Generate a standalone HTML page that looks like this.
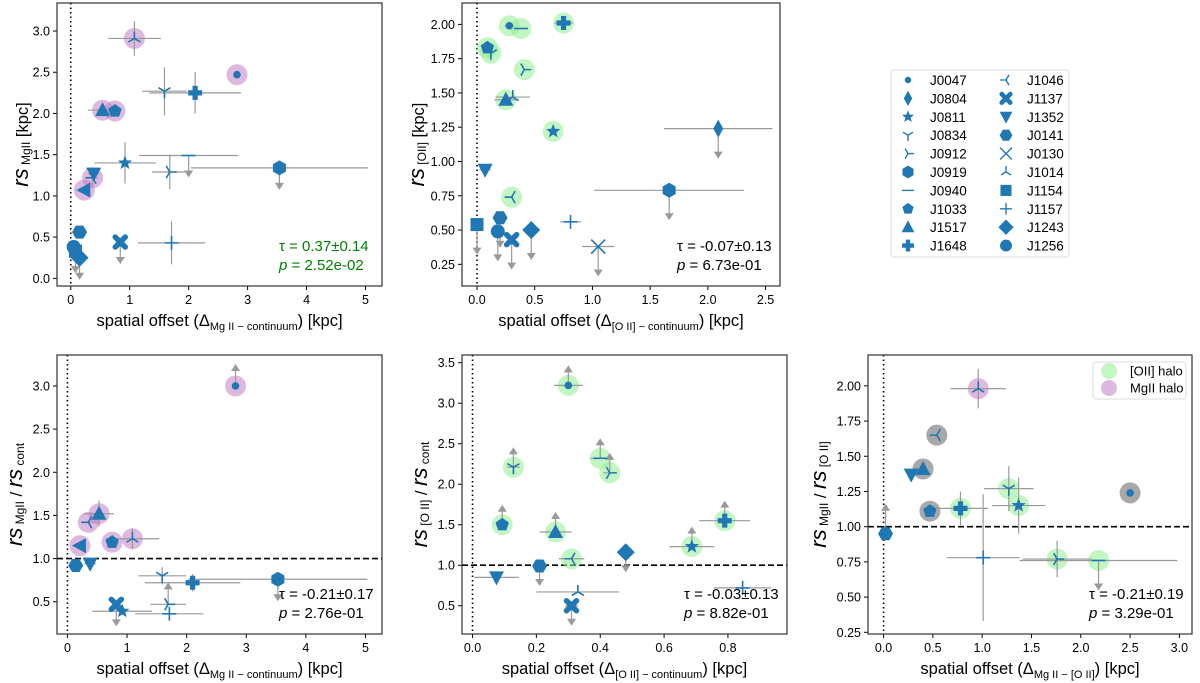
<!DOCTYPE html>
<html><head><meta charset="utf-8">
<style>
html,body{margin:0;padding:0;background:#fff;}
svg{display:block;font-family:"Liberation Sans","DejaVu Sans",sans-serif;}
</style></head>
<body>
<svg id="fig" width="1200" height="683" viewBox="0 0 1200 683" xmlns="http://www.w3.org/2000/svg"></svg>
<script>
// ---------- Panel 1: rs MgII vs offset MgII-continuum ----------
const p1Names=["J1014","J0047","J0834","J1648","J1517","J1033","J0811","J0940","J0912","J0919","J1352","J1046","L","J0141","J1256","J1154","J1243","J1137","J1157"];
const p1X=[1.08,2.82,1.59,2.11,0.54,0.75,0.92,2.0,1.68,3.54,0.39,0.37,0.23,0.15,0.05,0.08,0.15,0.84,1.71];
const p1Y=[2.91,2.47,2.27,2.25,2.04,2.03,1.40,1.49,1.29,1.34,1.27,1.22,1.07,0.56,0.38,0.33,0.25,0.44,0.43];
const p1Xe=[0.45,0,0.38,0.78,0.25,0.1,0.52,0.84,0.3,1.5,0.1,0.1,0,0,0,0,0,0,0.57];
const p1Ye=[0.21,0,0.29,0.25,0,0,0.25,0,0.21,0,0,0.1,0,0,0,0,0,0,0.26];
const p1Halo=["m","m","","","m","m","","","","","","m","m","","","","","",""];
const p1Lim=["","","","","","","","d","","d","","","","","","d","d","d",""];
const p1XTicks=[0,1,2,3,4,5];
const p1YTicks=[0,0.5,1,1.5,2,2.5,3];
// ---------- Panel 2: rs OII vs offset OII-continuum ----------
const p2Names=["J0047","J0940","J1648","J1033","J0834","J0912","J1517","J1014","J0811","J0804","J1352","J1046","J0919","J1154","J0141","J1256","J1137","J1243","J1157","J0130"];
const p2X=[0.28,0.38,0.75,0.09,0.12,0.41,0.25,0.31,0.66,2.09,0.07,0.30,1.665,0,0.20,0.18,0.30,0.47,0.81,1.05];
const p2Y=[1.99,1.97,2.01,1.83,1.79,1.67,1.45,1.47,1.22,1.24,0.94,0.74,0.79,0.54,0.59,0.49,0.43,0.50,0.56,0.38];
const p2Xe=[0.04,0.06,0.08,0,0,0,0.1,0.15,0.04,0.47,0.05,0,0.65,0,0,0,0,0,0.09,0.14];
const p2Ye=[0,0,0,0,0,0,0,0,0,0,0,0,0,0,0,0,0,0,0,0];
const p2Halo=["g","g","g","g","g","g","g","","g","","","g","","","","","","","",""];
const p2Lim=["","","","","","","","","","d","","","d","d","d","d","d","d","","d"];
const p2XTicks=[0,0.5,1,1.5,2,2.5];
const p2YTicks=[0.25,0.5,0.75,1,1.25,1.5,1.75,2];
// ---------- Panel 4: rs MgII / rs cont ----------
const p4Names=["J0047","J1517","J1046","J1033","J1014","L","J0141","J1352","J0834","J1648","J0919","J1137","J0811","J0912","J1157"];
const p4X=[2.82,0.53,0.35,0.75,1.09,0.21,0.14,0.38,1.59,2.1,3.53,0.82,0.92,1.69,1.71];
const p4Y=[3.0,1.52,1.42,1.19,1.23,1.15,0.92,0.94,0.80,0.72,0.76,0.47,0.39,0.47,0.36];
const p4Xe=[0,0.25,0.1,0.1,0.45,0,0,0.1,0.4,0.8,1.5,0,0.5,0.3,0.57];
const p4Ye=[0,0.15,0,0,0.12,0,0,0,0.1,0.1,0,0,0,0,0];
const p4Halo=["m","m","m","m","m","m","","","","","","","","",""];
const p4Lim=["u","","","","","","","","","","d","d","","u",""];
const p4XTicks=[0,1,2,3,4,5];
const p4YTicks=[0.5,1,1.5,2,2.5,3];
// ---------- Panel 5: rs OII / rs cont ----------
const p5Names=["J0047","J0834","J0940","J0912","J1033","J1517","J1046","J1243","J0811","J1648","J0141","J1352","J1014","J1137","J1157"];
const p5X=[0.30,0.128,0.40,0.43,0.093,0.26,0.31,0.48,0.687,0.79,0.21,0.075,0.33,0.31,0.846];
const p5Y=[3.22,2.21,2.32,2.14,1.50,1.41,1.08,1.16,1.23,1.55,0.99,0.85,0.67,0.50,0.72];
const p5Xe=[0.045,0.02,0.03,0.02,0.02,0.05,0.04,0,0.07,0.08,0,0.07,0.13,0.02,0.09];
const p5Ye=[0,0,0,0,0,0,0,0,0,0,0,0,0,0,0];
const p5Halo=["g","g","g","g","g","g","g","","g","g","","","","",""];
const p5Lim=["u","u","u","u","u","u","","d","u","u","d","","","d",""];
const p5XTicks=[0,0.2,0.4,0.6,0.8];
const p5YTicks=[0.5,1,1.5,2,2.5,3,3.5];
// ---------- Panel 6: rs MgII / rs OII ----------
const p6Names=["J1014","J1046","J1517","J1352","J1033","J1648","J0834","J0811","J0047","J0141","J1157","J0912","J0940"];
const p6X=[0.96,0.54,0.40,0.28,0.47,0.78,1.27,1.37,2.50,0.02,1.01,1.76,2.18];
const p6Y=[1.98,1.65,1.41,1.37,1.11,1.13,1.27,1.15,1.24,0.95,0.78,0.77,0.76];
const p6Xe=[0.28,0,0,0,0,0.28,0.25,0.27,0,0,0.37,0.35,0.8];
const p6Ye=[0.14,0,0,0,0,0.12,0.16,0.2,0,0,0.45,0.13,0];
const p6Halo=["m","k","k","","k","g","g","g","k","","","g","g"];
const p6Lim=["","","","","","","","","","u","","","d"];
const p6XTicks=[0,0.5,1,1.5,2,2.5,3];
const p6YTicks=[0.25,0.5,0.75,1,1.25,1.5,1.75,2];

const legendNames=["J0047","J0804","J0811","J0834","J0912","J0919","J0940","J1033","J1517","J1648","J1046","J1137","J1352","J0141","J0130","J1014","J1154","J1157","J1243","J1256"];
const MK={J0047:".",J0804:"d",J0811:"*",J0834:"1",J0912:"4",J0919:"h",J0940:"_",J1033:"p",J1517:"^",J1648:"P",J1046:"3",J1137:"X",J1352:"v",J0141:"H",J0130:"x",J1014:"2",J1154:"s",J1157:"+",J1243:"D",J1256:"o",L:"<"};

const NS="http://www.w3.org/2000/svg";
const svg=document.getElementById("fig");
const BLUE="#1f77b4", GRAY="#9a9a9a";
function el(tag,attrs,parent){const e=document.createElementNS(NS,tag);for(const k in attrs)e.setAttribute(k,attrs[k]);(parent||svg).appendChild(e);return e;}
function fmt(v,d){return v.toFixed(d);}
function poly(n,r,rot){let p=[];for(let i=0;i<n;i++){const a=rot+i*2*Math.PI/n;p.push((r*Math.cos(a)).toFixed(2)+","+(r*Math.sin(a)).toFixed(2));}return p.join(" ");}
function marker(g,type,cx,cy){
  const m=el("g",{transform:`translate(${cx},${cy})`},g);
  const F={fill:BLUE,stroke:"none"}, S={stroke:BLUE,"stroke-width":1.6,fill:"none"};
  switch(type){
    case ".":el("circle",Object.assign({r:3.8},F),m);break;
    case "o":el("circle",Object.assign({r:7},F),m);break;
    case "d":el("polygon",Object.assign({points:"0,-9 5,0 0,9 -5,0"},F),m);break;
    case "D":el("polygon",Object.assign({points:"0,-9 9,0 0,9 -9,0"},F),m);break;
    case "s":el("rect",Object.assign({x:-6.5,y:-6.5,width:13,height:13},F),m);break;
    case "^":el("polygon",Object.assign({points:"0,-8 7.5,6 -7.5,6"},F),m);break;
    case "v":el("polygon",Object.assign({points:"0,8 7.5,-6 -7.5,-6"},F),m);break;
    case "<":el("polygon",Object.assign({points:"-8,0 6,-7.5 6,7.5"},F),m);break;
    case "p":el("polygon",Object.assign({points:poly(5,7,-Math.PI/2)},F),m);break;
    case "h":el("polygon",Object.assign({points:poly(6,7.5,-Math.PI/2)},F),m);break;
    case "H":el("polygon",Object.assign({points:poly(6,7.5,0)},F),m);break;
    case "*":{let p=[];for(let i=0;i<10;i++){const r=i%2?3.2:7.5,a=-Math.PI/2+i*Math.PI/5;p.push((r*Math.cos(a)).toFixed(2)+","+(r*Math.sin(a)).toFixed(2));}el("polygon",Object.assign({points:p.join(" ")},F),m);break;}
    case "P":el("path",Object.assign({d:"M-2.6,-7H2.6V-2.6H7V2.6H2.6V7H-2.6V2.6H-7V-2.6H-2.6Z"},F),m);break;
    case "X":el("path",{d:"M-5,-5L5,5M5,-5L-5,5",stroke:BLUE,"stroke-width":5.5,"stroke-linecap":"round"},m);break;
    case "x":el("path",Object.assign({d:"M-7,-7L7,7M7,-7L-7,7"},S),m);break;
    case "+":el("path",Object.assign({d:"M-7,0H7M0,-7V7"},S),m);break;
    case "_":el("path",Object.assign({d:"M-7,0H7"},S),m);break;
    case "1":el("path",Object.assign({d:"M0,0V7M0,0L-6,-3.5M0,0L6,-3.5"},S),m);break;
    case "2":el("path",Object.assign({d:"M0,0V-7M0,0L-6,3.5M0,0L6,3.5"},S),m);break;
    case "3":el("path",Object.assign({d:"M0,0H-7M0,0L3.5,-6M0,0L3.5,6"},S),m);break;
    case "4":el("path",Object.assign({d:"M0,0H7M0,0L-3.5,-6M0,0L-3.5,6"},S),m);break;
  }
  return m;
}
const HALO={g:"rgba(144,238,144,0.55)",m:"rgba(191,114,191,0.5)",k:"rgba(110,110,110,0.6)"};

function panel(cfg){
  const g=el("g",{});
  
  
  const {L,R,T,B,x0,x1,y0,y1}=cfg;
  const sx=v=>L+(v-x0)/(x1-x0)*(R-L);
  const sy=v=>B-(v-y0)/(y1-y0)*(B-T);
  // ticks
  const tg=el("g",{},g);
  
  
  cfg.xt.forEach(v=>{const x=sx(v);el("line",{x1:x,x2:x,y1:B,y2:B+4,stroke:"#000","stroke-width":1},tg);
    const t=el("text",{x:x,y:B+18,"text-anchor":"middle","font-size":12.5},tg);t.textContent=fmt(v,cfg.xd);});
  const yg=el("g",{},g);
  
  
  cfg.yt.forEach(v=>{const y=sy(v);el("line",{x1:L-4,x2:L,y1:y,y2:y,stroke:"#000","stroke-width":1},yg);
    const t=el("text",{x:L-7,y:y+4.5,"text-anchor":"end","font-size":12.5},yg);t.textContent=fmt(v,cfg.yd);});
  // reference lines
  const vl=el("line",{x1:sx(0),x2:sx(0),y1:T,y2:B,stroke:"#000","stroke-width":1.6,"stroke-dasharray":"1.5,3"},g);
  
  
  if(cfg.hline){const hl=el("line",{x1:L,x2:R,y1:sy(1),y2:sy(1),stroke:"#000","stroke-width":1.6,"stroke-dasharray":"6,3"},g);
    
    }
  const d=cfg.d;
  // halos
  d.names.forEach((n,i)=>{if(d.halo[i]){const c=el("circle",{cx:sx(d.x[i]),cy:sy(d.y[i]),r:10.5,fill:HALO[d.halo[i]]},g);
    
    }});
  // error bars & limits
  d.names.forEach((n,i)=>{const x=sx(d.x[i]),y=sy(d.y[i]);
    if(d.xe[i])el("line",{x1:sx(d.x[i]-d.xe[i]),x2:sx(d.x[i]+d.xe[i]),y1:y,y2:y,stroke:GRAY,"stroke-width":1.2},g);
    if(d.ye[i])el("line",{x1:x,x2:x,y1:sy(d.y[i]-d.ye[i]),y2:sy(d.y[i]+d.ye[i]),stroke:GRAY,"stroke-width":1.2},g);
    if(d.lim[i]){const s=d.lim[i]=="d"?1:-1,L2=cfg.arrow;
      el("line",{x1:x,x2:x,y1:y,y2:y+s*(L2-5),stroke:GRAY,"stroke-width":1.2},g);
      el("polygon",{points:`${x-4.5},${y+s*(L2-7)} ${x+4.5},${y+s*(L2-7)} ${x},${y+s*L2}`,fill:GRAY},g);}
  });
  // markers
  d.names.forEach((n,i)=>{const m=marker(g,MK[n],sx(d.x[i]),sy(d.y[i]));
    
    });
  // frame
  const fr=el("rect",{x:L,y:T,width:R-L,height:B-T,fill:"none",stroke:"#333","stroke-width":1.2},g);
  
  
  // stats
  const st=el("text",{x:R-103,y:B-35,"font-size":15,fill:cfg.sc},g);
  
  
  st.textContent=cfg.tau;
  const sp=el("text",{x:R-103,y:B-16,"font-size":15,fill:cfg.sc},g);
  
  
  sp.innerHTML='<tspan font-style="italic">p</tspan> = '+cfg.p;
  // x label
  const xl=el("text",{x:(L+R)/2,y:B+40,"text-anchor":"middle","font-size":16.5},g);
  
  
  xl.innerHTML='spatial offset (Δ<tspan font-size="11" dy="4">'+cfg.xsub+'</tspan><tspan dy="-4">) [kpc]</tspan>';
  // y label
  const yl=el("text",{transform:`translate(${cfg.yx},${(T+B)/2}) rotate(-90)`,"text-anchor":"middle","font-size":16.5},g);
  
  
  yl.innerHTML=cfg.ylab;
  return g;
}
function D(names,x,y,xe,ye,halo,lim){return {names,x,y,xe,ye,halo,lim};}
const rs='<tspan font-style="italic" font-size="22">rs</tspan>';
panel({name:"panel-mgii-size",L:57,R:382,T:3,B:286,x0:-0.233,x1:5.28,y0:-0.093,y1:3.34,xt:p1XTicks,yt:p1YTicks,xd:0,yd:1,arrow:22,
  d:D(p1Names,p1X,p1Y,p1Xe,p1Ye,p1Halo,p1Lim),tau:"τ = 0.37±0.14",p:"2.52e-02",sc:"#008000",
  xsub:"Mg II − continuum",yx:28,ylab:rs+'<tspan font-size="12" dy="2"> MgII</tspan><tspan dy="-2"> [kpc]</tspan>'});
panel({name:"panel-oii-size",L:462,R:780,T:3,B:286,x0:-0.13,x1:2.625,y0:0.092,y1:2.156,xt:p2XTicks,yt:p2YTicks,xd:1,yd:2,arrow:30,
  d:D(p2Names,p2X,p2Y,p2Xe,p2Ye,p2Halo,p2Lim),tau:"τ = -0.07±0.13",p:"6.73e-01",sc:"#000",
  xsub:"[O II] − continuum",yx:424,ylab:rs+'<tspan font-size="12" dy="2"> [OII]</tspan><tspan dy="-2"> [kpc]</tspan>'});
panel({name:"panel-mgii-cont-ratio",L:57,R:382,T:355,B:634,x0:-0.175,x1:5.277,y0:0.126,y1:3.359,xt:p4XTicks,yt:p4YTicks,xd:0,yd:1,arrow:22,hline:true,
  d:D(p4Names,p4X,p4Y,p4Xe,p4Ye,p4Halo,p4Lim),tau:"τ = -0.21±0.17",p:"2.76e-01",sc:"#000",
  xsub:"Mg II − continuum",yx:22,ylab:rs+'<tspan font-size="12" dy="2"> MgII</tspan><tspan dy="-2"> / </tspan>'+rs+'<tspan font-size="12" dy="2"> cont</tspan>'});
panel({name:"panel-oii-cont-ratio",L:462,R:787,T:355,B:634,x0:-0.033,x1:0.985,y0:0.151,y1:3.595,xt:p5XTicks,yt:p5YTicks,xd:1,yd:1,arrow:20,hline:true,
  d:D(p5Names,p5X,p5Y,p5Xe,p5Ye,p5Halo,p5Lim),tau:"τ = -0.03±0.13",p:"8.82e-01",sc:"#000",
  xsub:"[O II] − continuum",yx:427,ylab:rs+'<tspan font-size="12" dy="2"> [O II]</tspan><tspan dy="-2"> / </tspan>'+rs+'<tspan font-size="12" dy="2"> cont</tspan>'});
panel({name:"panel-mgii-oii-ratio",L:868,R:1192,T:355,B:634,x0:-0.158,x1:3.128,y0:0.238,y1:2.219,xt:p6XTicks,yt:p6YTicks,xd:1,yd:2,arrow:30,hline:true,
  d:D(p6Names,p6X,p6Y,p6Xe,p6Ye,p6Halo,p6Lim),tau:"τ = -0.21±0.19",p:"3.29e-01",sc:"#000",
  xsub:"Mg II − [O II]",yx:826,ylab:rs+'<tspan font-size="12" dy="2"> MgII</tspan><tspan dy="-2"> / </tspan>'+rs+'<tspan font-size="12" dy="2"> [O II]</tspan>'});

// halo legend in panel 6
const hl=el("g",{});


el("rect",{x:1093,y:362,width:93,height:37,rx:3,fill:"#fff",stroke:"#ddd","stroke-width":1},hl);
[["g","[OII] halo",371],["m","MgII halo",388]].forEach(([c,t,y])=>{
  el("circle",{cx:1109,cy:y,r:8,fill:HALO[c]},hl);
  const tx=el("text",{x:1130,y:y+4.5,"font-size":13},hl);
  
  
  tx.textContent=t;});

// main legend
const lg=el("g",{});


el("rect",{x:891,y:70,width:178,height:187,rx:3,fill:"#fff",stroke:"#ddd","stroke-width":1},lg);
legendNames.forEach((n,i)=>{const col=Math.floor(i/10),row=i%10;
  const mx=col?1006:908, tx=col?1027:930, y=80+row*18.4;
  const e=el("g",{},lg);
  
  
  const m=marker(e,MK[n],mx,y);
  m.setAttribute("transform",`translate(${mx},${y}) scale(0.85)`);
  const t=el("text",{x:tx,y:y+5,"font-size":13.5},e);t.textContent=n;});
</script>
</body></html>
